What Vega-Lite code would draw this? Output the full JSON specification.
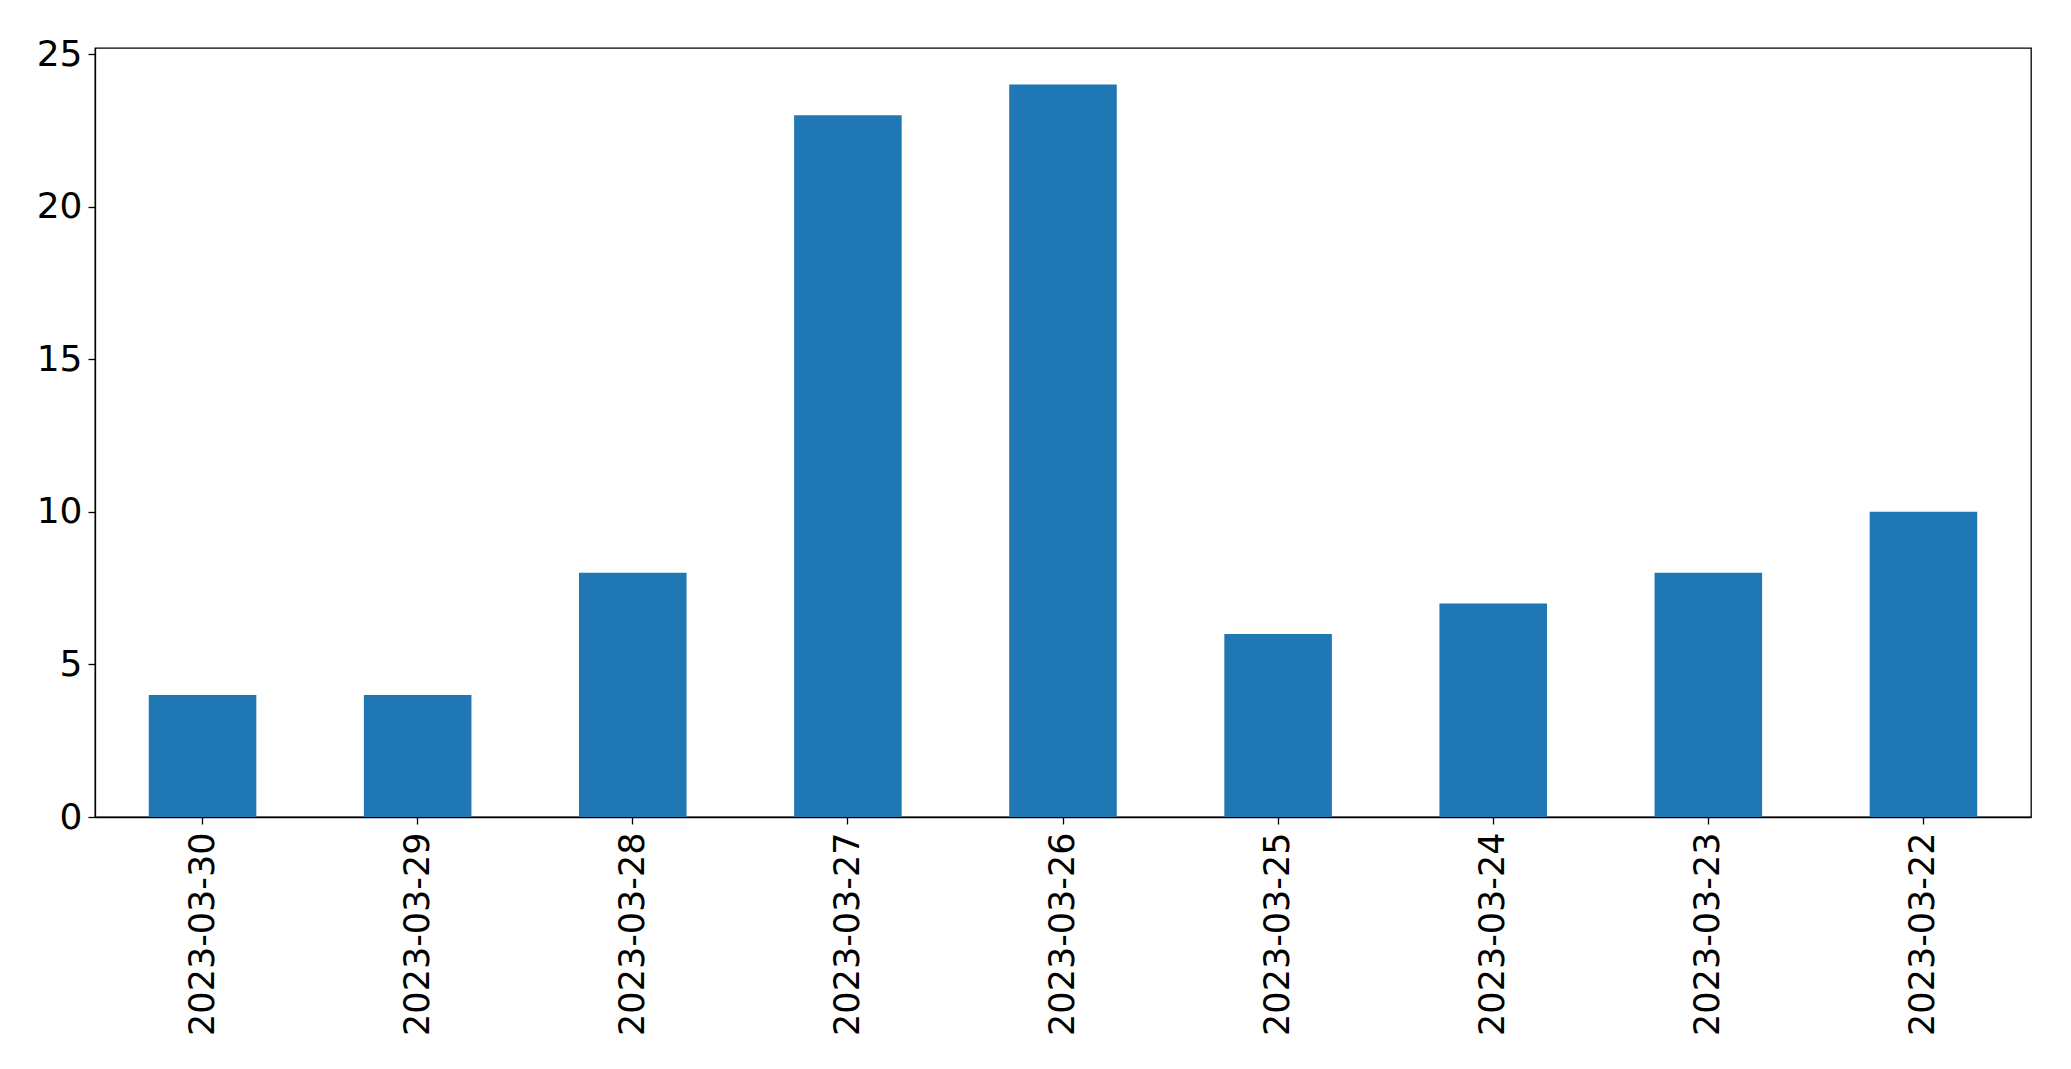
{
  "$schema": "https://vega.github.io/schema/vega-lite/v6.json",
  "width": 1936,
  "height": 769,
  "autosize": "none",
  "padding": {"left": 95, "top": 48, "right": 40, "bottom": 252},
  "background": "white",
  "data": {
    "values": [
      {"date": "2023-03-30", "count": 4},
      {"date": "2023-03-29", "count": 4},
      {"date": "2023-03-28", "count": 8},
      {"date": "2023-03-27", "count": 23},
      {"date": "2023-03-26", "count": 24},
      {"date": "2023-03-25", "count": 6},
      {"date": "2023-03-24", "count": 7},
      {"date": "2023-03-23", "count": 8},
      {"date": "2023-03-22", "count": 10}
    ]
  },
  "mark": {"type": "bar", "color": "#1f77b4"},
  "encoding": {
    "x": {
      "field": "date",
      "type": "nominal",
      "sort": null,
      "scale": {"paddingInner": 0.5, "paddingOuter": 0.25},
      "axis": {
        "title": null,
        "labelAngle": -90,
        "labelLimit": 0,
        "labelFont": "DejaVu Sans",
        "labelFontSize": 35,
        "labelColor": "black",
        "labelPadding": 8,
        "tickSize": 7,
        "tickColor": "black",
        "tickWidth": 1.3,
        "domainColor": "black",
        "domainWidth": 1.3
      }
    },
    "y": {
      "field": "count",
      "type": "quantitative",
      "scale": {"domain": [0, 25.2], "nice": false},
      "axis": {
        "title": null,
        "values": [0, 5, 10, 15, 20, 25],
        "grid": false,
        "labelFont": "DejaVu Sans",
        "labelFontSize": 36,
        "labelColor": "black",
        "labelPadding": 6,
        "tickSize": 7,
        "tickColor": "black",
        "tickWidth": 1.3,
        "domainColor": "black",
        "domainWidth": 1.3
      }
    }
  },
  "config": {
    "view": {"stroke": "black", "strokeWidth": 1.3}
  }
}
